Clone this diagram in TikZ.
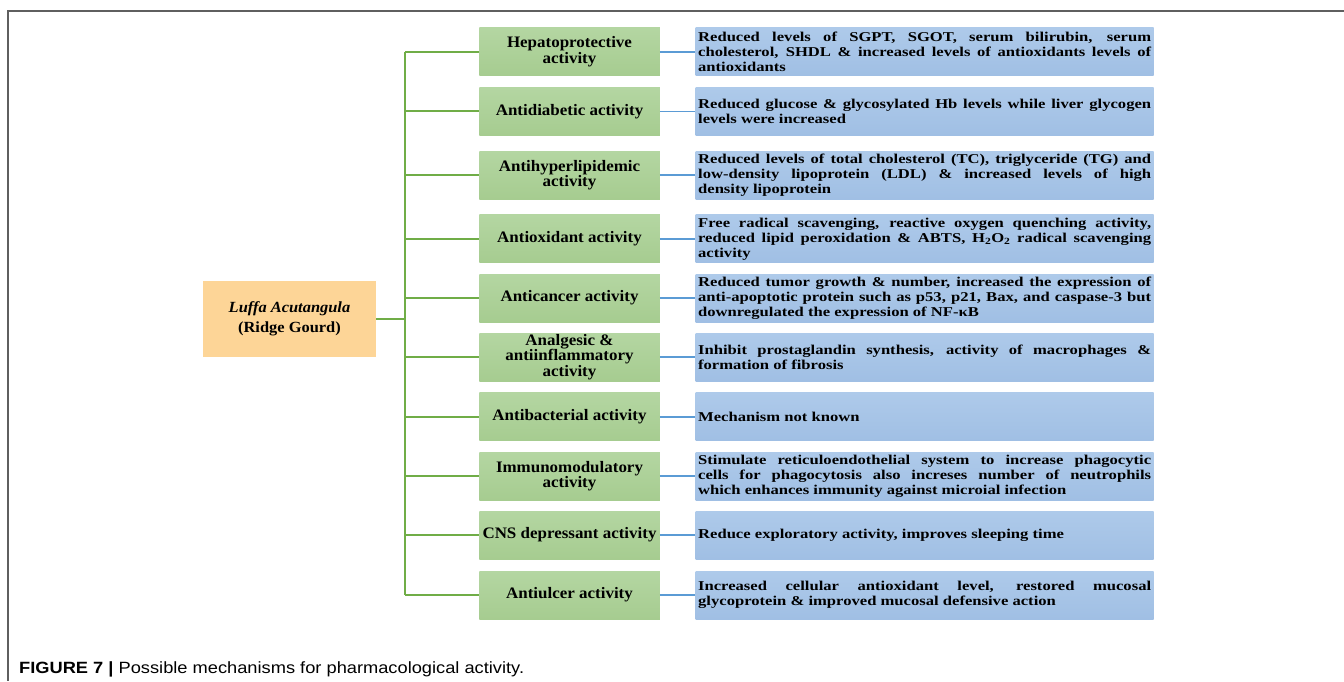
\documentclass[tikz,border=0pt]{standalone}
\usepackage{fontspec}
\setmainfont{Liberation Serif}[FakeStretch=1.06]
\newfontfamily\descfont{Liberation Serif}[FakeStretch=1.23]
\newfontfamily\capfont{Liberation Sans}[FakeStretch=1.12]
\usepackage{tikz}
\usetikzlibrary{positioning}
\hyphenpenalty=10000
\exhyphenpenalty=10000
\definecolor{frame}{HTML}{5F5F5F}
\definecolor{rootfill}{HTML}{FDD597}
\definecolor{acttop}{HTML}{B4D6A2}
\definecolor{actbot}{HTML}{A6CC90}
\definecolor{mechtop}{HTML}{AECAEA}
\definecolor{mechbot}{HTML}{A0BFE4}
\definecolor{green}{HTML}{70AD47}
\definecolor{blue}{HTML}{5B9BD5}
\tikzset{rootbox/.style={fill=rootfill,minimum width=173pt,minimum height=76pt,align=center,inner sep=0pt,font=\bfseries\fontsize{15.5}{20}\selectfont},actbox/.style={top color=acttop,bottom color=actbot,minimum width=180.5pt,minimum height=48pt,align=center,inner sep=0pt,font=\bfseries\fontsize{16}{15.5}\selectfont},mechbox/.style={top color=mechtop,bottom color=mechbot,text width=453pt,minimum width=458pt,minimum height=48pt,inner xsep=2.5pt,inner ysep=1pt,align=justify,font=\descfont\bfseries\fontsize{13.5}{15}\selectfont},tree/.style={draw=green,line width=1.8pt},link/.style={draw=blue,line width=1.6pt}}

\begin{document}
\begin{tikzpicture}[x=1pt,y=-1pt]
 \useasboundingbox (0,0) rectangle (1344,681);
 \draw[frame,line width=1.2pt] (1344,11) -- (8,11) -- (8,681);
 \node[rootbox] (root) at (289.5,319) {\textit{Luffa Acutangula}\\(Ridge Gourd)};
 \coordinate (spine) at (405,0);
 % activities
 \node[actbox] (a1) at (569.5,51.8) {Hepatoprotective\\activity};
 \node[actbox] (a2) at (569.5,111.3) {Antidiabetic activity};
 \node[actbox] (a3) at (569.5,175) {Antihyperlipidemic\\activity};
 \node[actbox] (a4) at (569.5,238.8) {Antioxidant activity};
 \node[actbox] (a5) at (569.5,298) {Anticancer activity};
 \node[actbox] (a6) at (569.5,357) {Analgesic \&\\antiinflammatory\\activity};
 \node[actbox] (a7) at (569.5,416.7) {Antibacterial activity};
 \node[actbox] (a8) at (569.5,476) {Immunomodulatory\\activity};
 \node[actbox] (a9) at (569.5,535) {CNS depressant activity};
 \node[actbox] (a10) at (569.5,595) {Antiulcer activity};
 % mechanisms
 \node[mechbox,right=35.5pt of a1] (m1) {Reduced levels of SGPT, SGOT, serum bilirubin, serum cholesterol, SHDL \& increased levels of antioxidants levels of antioxidants};
 \node[mechbox,right=35.5pt of a2] (m2) {Reduced glucose \& glycosylated Hb levels while liver glycogen levels were increased};
 \node[mechbox,right=35.5pt of a3] (m3) {Reduced levels of total cholesterol (TC), triglyceride (TG) and\linebreak low-density lipoprotein (LDL) \& increased levels of high\linebreak density lipoprotein};
 \node[mechbox,right=35.5pt of a4] (m4) {Free radical scavenging, reactive oxygen quenching activity, reduced lipid peroxidation \& ABTS, H\textsubscript{2}O\textsubscript{2} radical scavenging activity};
 \node[mechbox,right=35.5pt of a5] (m5) {Reduced tumor growth \& number, increased the expression of anti-apoptotic protein such as p53, p21, Bax, and caspase-3 but downregulated the expression of NF-κB};
 \node[mechbox,right=35.5pt of a6] (m6) {Inhibit prostaglandin synthesis, activity of macrophages \& formation of fibrosis};
 \node[mechbox,right=35.5pt of a7] (m7) {Mechanism not known};
 \node[mechbox,right=35.5pt of a8] (m8) {Stimulate reticuloendothelial system to increase phagocytic\linebreak cells for phagocytosis also increses number of neutrophils\linebreak which enhances immunity against microial infection};
 \node[mechbox,right=35.5pt of a9] (m9) {Reduce exploratory activity, improves sleeping time};
 \node[mechbox,right=35.5pt of a10] (m10) {Increased cellular antioxidant level, restored mucosal glycoprotein \& improved mucosal defensive action};
 % connectors
 \draw[tree] (root.east) -- (root.east -| spine);
 \draw[tree] (spine |- a1.west) -- (spine |- a10.west);
 \foreach \i in {1,...,10} {
  \draw[tree] (spine |- a\i.west) -- (a\i.west);
  \draw[link] (a\i.east) -- (m\i.west);
 }
 \node[anchor=base west,inner sep=0pt,font=\capfont\fontsize{16.3}{18}\selectfont] (caption) at (19,673) {\textbf{FIGURE 7 |} Possible mechanisms for pharmacological activity.};
\end{tikzpicture}
\end{document}
